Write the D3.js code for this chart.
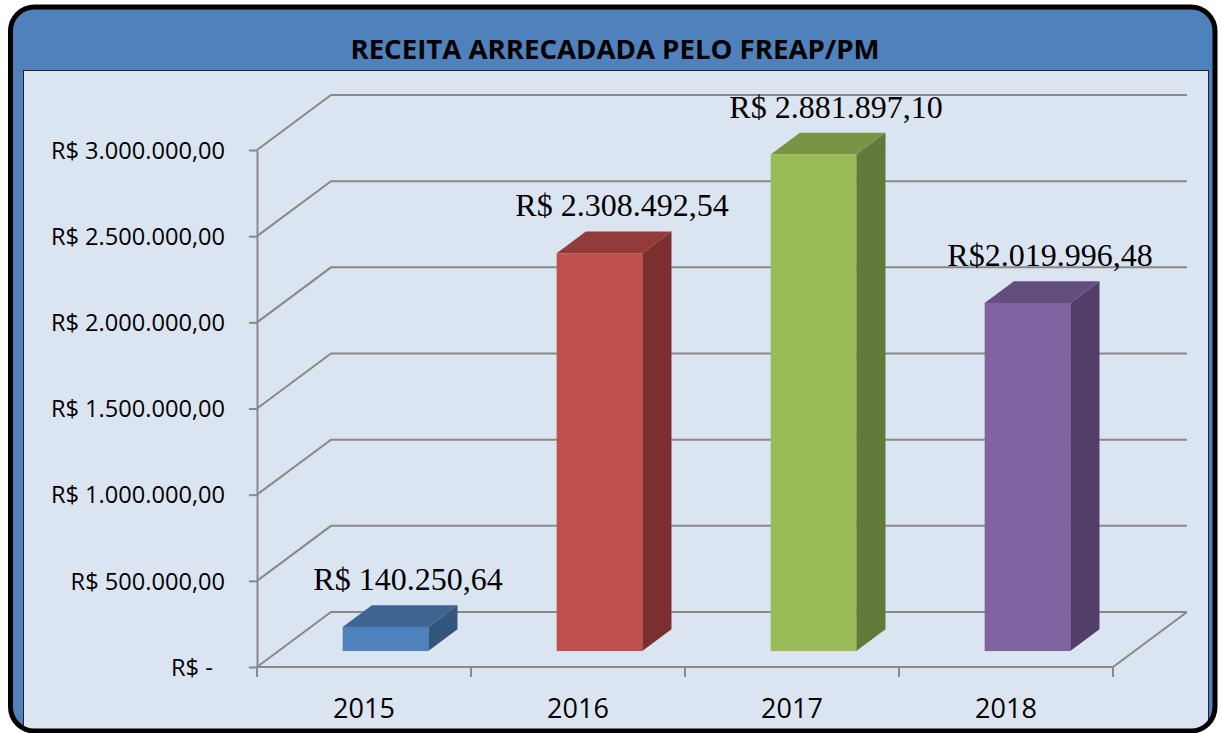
<!DOCTYPE html>
<html>
<head>
<meta charset="utf-8">
<script src="https://cdn.jsdelivr.net/npm/d3@7"></script>
<style>
  html, body { margin: 0; padding: 0; background: #ffffff; }
  svg { display: block; }
</style>
</head>
<body>
<svg id="chart" width="1222" height="733"></svg>
<script>
// ---- data ----
const title = "RECEITA ARRECADADA PELO FREAP/PM";
const years = ["2015", "2016", "2017", "2018"];
const values = [140250.64, 2308492.54, 2881897.10, 2019996.48];
const valueLabels = ["R$ 140.250,64", "R$ 2.308.492,54", "R$ 2.881.897,10", "R$2.019.996,48"];
const yTicks = [0, 500000, 1000000, 1500000, 2000000, 2500000, 3000000];
const yTickLabels = ["R$ -\u00a0\u00a0", "R$ 500.000,00", "R$ 1.000.000,00", "R$ 1.500.000,00",
                     "R$ 2.000.000,00", "R$ 2.500.000,00", "R$ 3.000.000,00"];

// ---- palette ----
const frontColors = ["#4F81BD", "#C0504D", "#9BBB59", "#8064A2"];
const topColors   = ["#3E6594", "#933B39", "#789444", "#644E80"];
const sideColors  = ["#34557E", "#7B302F", "#63793A", "#523F69"];

const svg = d3.select("#chart");

// frame
const defs = svg.append("defs");
defs.append("clipPath").attr("id", "frameClip")
  .append("rect").attr("x", 10.5).attr("y", 7).attr("width", 1204.5).attr("height", 724).attr("rx", 24);

svg.append("rect").attr("x", 10.5).attr("y", 7).attr("width", 1204.5).attr("height", 724).attr("rx", 24)
  .attr("fill", "#4F81BD");
svg.append("g").attr("clip-path", "url(#frameClip)")
  .append("rect").attr("x", 23.5).attr("y", 70.5).attr("width", 1185).attr("height", 680)
  .attr("fill", "#DBE5F1").attr("stroke", "#222").attr("stroke-width", 1);
svg.append("rect").attr("x", 10.5).attr("y", 7).attr("width", 1204.5).attr("height", 724).attr("rx", 24)
  .attr("fill", "none").attr("stroke", "#000").attr("stroke-width", 5);

svg.append("text").attr("x", 615).attr("y", 58.5).attr("text-anchor", "middle")
  .attr("font-family", "'Open Sans', sans-serif").attr("font-weight", "bold").attr("font-size", 27.6)
  .attr("fill", "#000").text(title);

// ---- scales ----
const left = 257, right = 1113;
const DX = 74, DY = 55;           // projection of the full depth
const z0 = 0.29, z1 = 0.685;     // bar depth span
const x = d3.scaleBand().domain(years).range([left, right]).paddingInner(0.6).paddingOuter(0.3);
const y = d3.scaleLinear().domain([0, 3000000]).range([667, 150]);

const gridColor = "#898989";

// back wall + side wall gridlines
svg.append("g").selectAll("path").data(yTicks).join("path")
  .attr("d", v => `M${left},${y(v)} L${left + DX},${y(v) - DY} L${right + DX},${y(v) - DY}`)
  .attr("fill", "none").attr("stroke", gridColor).attr("stroke-width", 2);

// floor front and right edge
svg.append("path")
  .attr("d", `M${left},${y(0)} L${right},${y(0)} L${right + DX},${y(0) - DY}`)
  .attr("fill", "none").attr("stroke", gridColor).attr("stroke-width", 2);

// y axis
const yAxis = d3.axisLeft(y).tickValues(yTicks).tickFormat((d, i) => yTickLabels[i])
  .tickSize(8).tickSizeOuter(0).tickPadding(24);
const gy = svg.append("g").attr("transform", `translate(${left},0)`).call(yAxis);
gy.select(".domain").attr("stroke", gridColor).attr("stroke-width", 2);
gy.selectAll(".tick line").attr("stroke", gridColor).attr("stroke-width", 2);
gy.selectAll(".tick text").attr("font-family", "'Open Sans', sans-serif").attr("font-size", 23.6)
  .attr("fill", "#000").attr("dy", "0.35em");

// x axis: boundary ticks and centred labels
const bounds = d3.range(years.length + 1).map(i => left + i * x.step());
svg.append("g").selectAll("line").data(bounds).join("line")
  .attr("x1", d => d).attr("x2", d => d).attr("y1", y(0)).attr("y2", y(0) + 10)
  .attr("stroke", gridColor).attr("stroke-width", 2);
svg.append("g").selectAll("text").data(years).join("text")
  .attr("x", d => x(d) + x.bandwidth() / 2).attr("y", 718).attr("text-anchor", "middle")
  .attr("font-family", "'Open Sans', sans-serif").attr("font-size", 27).attr("fill", "#000")
  .text(d => d);

// ---- bars ----
const ddx = (z1 - z0) * DX, ddy = (z1 - z0) * DY;
const bars = svg.append("g").selectAll("g").data(years).join("g");
bars.each(function (yr, i) {
  const g = d3.select(this);
  const w = x.bandwidth();
  const x0 = x(yr) + z0 * DX;
  const yBot = y(0) - z0 * DY;
  const yTop = y(values[i]) - z0 * DY;
  g.append("path")
    .attr("d", `M${x0 + w},${yTop} L${x0 + w + ddx},${yTop - ddy} L${x0 + w + ddx},${yBot - ddy} L${x0 + w},${yBot} Z`)
    .attr("fill", sideColors[i]);
  g.append("path")
    .attr("d", `M${x0},${yTop} L${x0 + ddx},${yTop - ddy} L${x0 + w + ddx},${yTop - ddy} L${x0 + w},${yTop} Z`)
    .attr("fill", topColors[i]);
  g.append("rect").attr("x", x0).attr("y", yTop).attr("width", w).attr("height", yBot - yTop)
    .attr("fill", frontColors[i]);
  g.append("text")
    .attr("x", x(yr) + w / 2 + 44).attr("y", yTop - ddy - 15).attr("text-anchor", "middle")
    .attr("font-family", "'Liberation Serif', 'Times New Roman', serif").attr("font-size", 32)
    .attr("fill", "#000").text(valueLabels[i]);
});
</script>
</body>
</html>
